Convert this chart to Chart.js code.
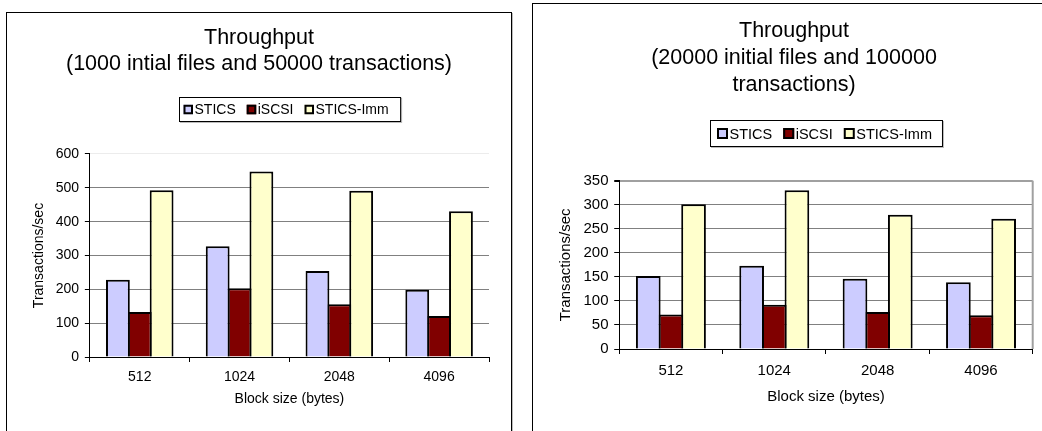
<!DOCTYPE html>
<html>
<head>
<meta charset="utf-8">
<script src="https://cdn.jsdelivr.net/npm/chart.js@4/dist/chart.umd.min.js"></script>
<style>
  html, body { margin: 0; padding: 0; background: #fff; overflow: hidden; width: 1042px; height: 431px; }
  .box { position: absolute; border: 1px solid #000; box-shadow: 1px 1px 0 #bbb; }
  #boxL { left: 6px; top: 12px; width: 504px; height: 440px; }
  #boxR { left: 532px; top: 3px; width: 540px; height: 440px; }
  canvas { position: absolute; left: 0; top: 0; }
</style>
</head>
<body>
<div class="box" id="boxL"><canvas id="chartL" width="504" height="418"></canvas></div>
<div class="box" id="boxR"><canvas id="chartR" width="522" height="427"></canvas></div>
<script>
// block sizes on the x axis
var categories = ["512", "1024", "2048", "4096"];
var seriesNames = ["STICS", "iSCSI", "STICS-Imm"];

// left chart: 1000 initial files, 50000 transactions
var leftTitle = ["Throughput", "(1000 intial files and 50000 transactions)"];
var leftStics = [228, 327, 254, 199];
var leftIscsi = [133, 203, 156, 121];
var leftSticsImm = [493, 548, 491, 431];

// right chart: 20000 initial files, 100000 transactions
var rightTitle = ["Throughput", "(20000 initial files and 100000", "transactions)"];
var rightStics = [152, 173, 146, 139];
var rightIscsi = [72, 92, 77, 70];
var rightSticsImm = [301, 330, 279, 271];

var xTitle = "Block size (bytes)";
var yTitle = "Transactions/sec";

var colors = ["#CCCCFF", "#800000", "#FFFFCC"];

Chart.defaults.font.family = '"Liberation Sans", Arial, sans-serif';
Chart.defaults.color = "#000";

// legend drawn as a framed box above the plot, centred on the plot area
var boxLegend = {
    id: "boxLegend",
    afterDraw: function (chart, args, o) {
        var ctx = chart.ctx;
        var sets = chart.data.datasets;
        ctx.save();
        ctx.font = o.fontSize + 'px "Liberation Sans", Arial, sans-serif';
        var tw = sets.map(function (d) { return ctx.measureText(d.label).width; });
        var w = o.padL + o.padR;
        for (var i = 0; i < sets.length; i++) {
            w += o.marker + o.gap + tw[i] + (i < sets.length - 1 ? o.itemGap : 0);
        }
        var ca = chart.chartArea;
        var x0 = Math.round((ca.left + ca.right) / 2 - w / 2) + 0.5;
        var y0 = Math.round(ca.top - o.offset) + 0.5;
        ctx.strokeStyle = "#bbb";
        ctx.lineWidth = 1;
        ctx.strokeRect(x0 + 1, y0 + 1, w, o.height);
        ctx.fillStyle = "#fff";
        ctx.fillRect(x0, y0, w, o.height);
        ctx.strokeStyle = "#000";
        ctx.strokeRect(x0, y0, w, o.height);
        var x = x0 + o.padL;
        var cy = y0 + o.height / 2;
        for (var j = 0; j < sets.length; j++) {
            var m = o.marker;
            ctx.fillStyle = sets[j].backgroundColor;
            ctx.fillRect(x, cy - m / 2, m, m);
            ctx.lineWidth = 2;
            ctx.strokeStyle = "#000";
            ctx.strokeRect(x + 1, cy - m / 2 + 1, m - 2, m - 2);
            x += m + o.gap;
            ctx.fillStyle = "#000";
            ctx.textBaseline = "middle";
            ctx.textAlign = "left";
            ctx.fillText(sets[j].label, x, cy + 1);
            x += tw[j] + o.itemGap;
        }
        ctx.restore();
    }
};

// gray frame on the right edge of the plot area
var rightFrame = {
    id: "rightFrame",
    beforeDatasetsDraw: function (chart, args, o) {
        if (!o.show) return;
        var ca = chart.chartArea;
        var ctx = chart.ctx;
        ctx.save();
        ctx.strokeStyle = "#a0a0a0";
        ctx.lineWidth = 2;
        ctx.beginPath();
        ctx.moveTo(ca.right, ca.top);
        ctx.lineTo(ca.right, ca.bottom);
        ctx.stroke();
        ctx.restore();
    }
};

function makeChart(id, s) {
    var values = [s.stics, s.iscsi, s.imm];
    var datasets = seriesNames.map(function (name, i) {
        return {
            label: name,
            data: values[i],
            backgroundColor: colors[i],
            borderColor: "#000",
            borderWidth: 2,
            borderSkipped: "start",
            barPercentage: 1.09,
            categoryPercentage: 0.657
        };
    });
    var fs = s.fontSize;
    return new Chart(document.getElementById(id), {
        type: "bar",
        data: { labels: categories, datasets: datasets },
        options: {
            responsive: false,
            animation: false,
            devicePixelRatio: 1,
            layout: { padding: { left: s.side, right: s.side, top: 0, bottom: s.bottom } },
            plugins: {
                legend: { display: false },
                tooltip: { enabled: false },
                title: {
                    display: true,
                    text: s.title,
                    color: "#000",
                    font: { size: 21.5, weight: "normal", lineHeight: s.titleLH },
                    padding: { top: s.titleTop, bottom: s.titleBottom }
                },
                boxLegend: s.legend,
                rightFrame: { show: s.frame }
            },
            scales: {
                x: {
                    grid: { offset: true, drawOnChartArea: false, drawTicks: true, tickLength: 5, tickColor: "#000" },
                    border: { color: "#000", width: 1 },
                    ticks: { font: { size: fs }, padding: s.xPad, color: "#000" },
                    title: { display: true, text: xTitle, font: { size: fs }, padding: { top: s.xTitleTop, bottom: 0 }, color: "#000" }
                },
                y: {
                    min: 0,
                    max: s.max,
                    grid: {
                        color: function (c) {
                            if (c.tick && c.tick.value === s.max) return s.topGrid;
                            return "#808080";
                        },
                        lineWidth: function (c) {
                            return (c.tick && c.tick.value === s.max && s.frame) ? 2 : 1;
                        },
                        tickLength: 5,
                        tickColor: "#000"
                    },
                    border: { color: "#000", width: 1 },
                    ticks: { stepSize: s.step, font: { size: fs }, padding: 5.7, color: "#000" },
                    title: { display: true, text: yTitle, font: { size: fs }, padding: { top: s.yTop, bottom: s.yBottom }, color: "#000" }
                }
            }
        },
        plugins: [boxLegend, rightFrame]
    });
}

makeChart("chartL", {
    title: leftTitle, stics: leftStics, iscsi: leftIscsi, imm: leftSticsImm,
    max: 600, step: 100, fontSize: 14, side: 22, bottom: 23.6,
    titleLH: 1.209, titleTop: 12, titleBottom: 77, xPad: 6.6, xTitleTop: -1.4,
    yTop: 1.6, yBottom: 2.7,
    topGrid: "#ececec", frame: false,
    legend: { fontSize: 14, offset: 57, height: 24, padL: 4, padR: 12, marker: 9.5, gap: 1.5, itemGap: 11 }
});

makeChart("chartR", {
    title: rightTitle, stics: rightStics, iscsi: rightIscsi, imm: rightSticsImm,
    max: 350, step: 50, fontSize: 15, side: 22.3, bottom: 25.3,
    titleLH: 1.256, titleTop: 13.2, titleBottom: 82.5, xPad: 8, xTitleTop: -0.3,
    yTop: 2, yBottom: 2.5,
    topGrid: "#a0a0a0", frame: true,
    legend: { fontSize: 14.5, offset: 60.7, height: 26, padL: 6.5, padR: 10.5, marker: 11, gap: 1.5, itemGap: 11 }
});
</script>
</body>
</html>
